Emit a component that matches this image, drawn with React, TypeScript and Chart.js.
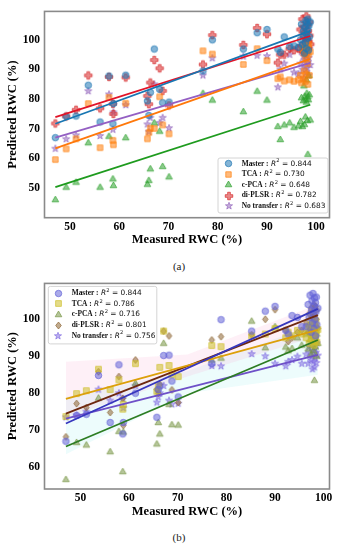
import React, { useEffect, useRef } from "react";
import { Chart, registerables } from "chart.js";
Chart.register(...registerables);

// ---------- data ----------
const measured = [47.0, 49.2, 51.2, 53.7, 56.1, 57.9, 58.7, 58.8, 61.3, 65.7, 66.0, 66.3, 67.1, 68.2, 68.8, 70.1,
  77.0, 78.9, 85.2, 88.0, 90.0, 92.2, 92.7, 93.5, 94.6, 95.5,
  96.4, 96.8, 97.0, 97.2, 97.4, 97.5, 97.6, 97.7, 97.8, 97.9, 98.0, 98.0, 98.1, 98.2, 98.3, 98.3, 98.4, 98.5, 98.6, 98.8];

const xTicks = [50, 60, 70, 80, 90, 100];
const yTicksA = [50, 60, 70, 80, 90, 100];
const yTicksB = [60, 70, 80, 90, 100];

const seriesNames = ["Master", "TCA", "c-PCA", "di-PLSR", "No transfer"];
const r2A = ["0.844", "0.730", "0.648", "0.782", "0.683"];
const r2B = ["0.844", "0.786", "0.716", "0.801", "0.756"];

// (a)
const masterA = [67.0, 74.2, 74.3, 84.7, 72.3, 87.8, 71.7, 78.5, 88.1, 79.4, 74.5, 82.3, 96.9, 83.3, 78.8, 79.0,
  89.5, 100.0, 96.9, 102.4, 103.5, 96.9, 95.8, 101.0, 97.8, 98.0,
  97.5, 100.0, 105.3, 98.5, 103.0, 101.5, 95.5, 104.2, 99.0, 106.5, 102.0, 97.0, 105.8, 100.5, 103.5, 107.0, 96.5, 104.8, 101.0, 106.0];
const tcaA = [59.6, 63.2, 66.6, 78.5, 63.6, 80.6, 66.1, 64.6, 78.6, 66.6, 68.7, 70.2, 70.1, 80.8, 71.3, 68.3,
  96.3, 95.2, 91.7, 97.0, 93.0, 86.9, 87.5, 86.1, 86.5, 86.0,
  86.5, 88.0, 85.5, 97.0, 86.8, 95.5, 89.5, 97.8, 86.0, 94.0, 98.0, 88.5, 96.5, 92.0, 97.5, 85.0, 95.0, 98.5, 88.0, 96.0];
const cpcaA = [46.1, 50.3, 52.0, 65.3, 50.3, 67.5, 53.1, 50.9, 67.0, 51.3, 52.6, 56.5, 72.0, 69.2, 57.3, 53.8,
  82.0, 79.7, 75.8, 82.7, 79.7, 70.8, 66.4, 71.3, 72.0, 70.5,
  71.0, 72.5, 80.5, 70.8, 79.5, 84.5, 71.5, 81.0, 74.0, 80.0, 86.5, 79.0, 82.0, 72.8, 80.8, 61.4, 79.8, 88.0, 81.5, 73.0];
const diplsrA = [71.8, 74.2, 76.4, 88.0, 76.9, 87.5, 78.4, 75.0, 87.3, 81.1, 78.3, 85.6, 93.2, 90.4, 82.8, 77.9,
  91.7, 101.6, 98.3, 104.0, 101.9, 92.3, 95.0, 95.0, 97.0, 96.5,
  97.0, 103.5, 98.0, 107.0, 96.0, 101.0, 104.5, 97.5, 102.5, 99.0, 108.0, 95.5, 100.0, 105.0, 97.0, 103.0, 99.5, 106.0, 101.5, 98.5];
const noTransferA = [63.3, 66.5, 67.8, 82.7, 67.6, 81.6, 69.7, 75.5, 78.0, 71.5, 69.0, 73.7, 85.0, 72.0, 73.7, 70.2,
  88.0, 93.8, 94.4, 94.7, 94.5, 84.0, 90.0, 92.0, 95.0, 89.0,
  88.5, 92.0, 96.0, 90.0, 94.5, 87.0, 93.0, 97.5, 91.0, 95.5, 89.0, 93.5, 98.0, 90.5, 96.5, 92.5, 88.0, 94.0, 97.0, 91.5];

// (b)
const masterB = [67.0, 74.0, 74.3, 84.8, 72.1, 87.7, 69.0, 72.1, 80.0, 73.5, 81.0, 82.0, 90.2, 90.3, 83.3, 79.0,
  88.0, 99.9, 96.8, 102.2, 103.5, 97.0, 96.0, 101.0, 100.5, 98.0,
  98.0, 104.0, 100.5, 106.5, 96.5, 102.5, 105.0, 99.0, 107.0, 101.5, 97.5, 103.5, 105.8, 100.0, 95.5, 104.5, 102.0, 106.0, 98.5, 103.0];
const tcaB = [73.7, 79.9, 80.7, 86.5, 81.0, 83.6, 75.7, 77.0, 88.0, 80.5, 82.0, 87.0, 96.8, 87.5, 85.0, 84.5,
  92.9, 92.6, 95.5, 96.0, 97.5, 95.0, 96.5, 95.5, 97.0, 96.0,
  95.0, 97.5, 93.5, 98.0, 96.0, 94.5, 99.0, 96.5, 95.5, 97.0, 93.0, 98.5, 96.0, 94.0, 97.8, 95.8, 99.5, 96.8, 93.8, 97.2];
const cpcaB = [56.7, 66.7, 66.0, 78.7, 64.2, 69.7, 58.8, 69.5, 82.7, 66.3, 72.1, 69.0, 93.5, 77.0, 71.5, 71.4,
  89.0, 89.5, 99.5, 92.3, 98.0, 92.5, 91.5, 92.1, 95.0, 93.0,
  96.0, 92.0, 98.5, 94.5, 90.5, 97.0, 95.5, 93.0, 99.0, 91.5, 96.5, 94.0, 83.5, 97.5, 92.5, 95.0, 98.0, 90.0, 96.0, 93.5];
const diplsrB = [68.2, 77.2, 76.1, 85.8, 74.8, 84.5, 78.6, 71.3, 89.0, 81.0, 80.0, 82.4, 96.8, 95.5, 80.9, 77.5,
  94.4, 95.3, 95.8, 100.0, 102.6, 97.0, 94.0, 95.0, 96.5, 97.0,
  99.0, 96.5, 101.5, 97.5, 103.0, 98.0, 100.5, 95.5, 102.0, 97.0, 104.0, 99.5, 96.0, 101.0, 98.5, 103.5, 95.0, 100.0, 102.5, 97.5];
const noTransferB = [73.5, 74.0, 75.0, 81.0, 78.0, 80.0, 78.5, 76.0, 82.0, 77.5, 79.0, 80.0, 82.0, 78.0, 77.0, 77.2,
  87.4, 87.3, 90.6, 90.0, 88.0, 87.3, 88.5, 89.0, 89.9, 88.0,
  90.5, 88.0, 92.5, 91.0, 89.0, 93.0, 90.0, 86.5, 91.5, 88.5, 95.0, 90.8, 87.0, 92.0, 89.5, 97.0, 91.0, 88.2, 93.5, 90.2];

// regression lines (start / end)
const fitX = [47.0, 98.8];
const masterFitA = [71.7, 103.0];
const tcaFitA = [63.4, 93.6];
const cpcaFitA = [50.3, 78.1];
const diplsrFitA = [73.9, 101.3];
const noTransferFitA = [67.0, 92.2];
const masterFitB = [71.8, 102.8];
const tcaFitB = [78.5, 97.1];
const cpcaFitB = [65.6, 94.4];
const diplsrFitB = [74.5, 101.1];
const noTransferFitB = [73.1, 90.4];

// faint confidence bands of (b)
const bandX = [47.0, 72.0, 98.8];
const pinkUpper = [88.5, 90.5, 104.0];
const pinkLower = [73.5, 84.5, 95.5];
const cyanUpper = [79.0, 86.0, 99.0];
const cyanLower = [63.5, 80.0, 85.0];

// ---------- styling ----------
type RGB = [number, number, number];
const rgba = (c: RGB, a: number) => `rgba(${c[0]},${c[1]},${c[2]},${a})`;

const colorsA: RGB[] = [[31, 119, 180], [255, 127, 14], [44, 160, 44], [214, 39, 40], [148, 103, 189]];
const lineColorsA: RGB[] = [[24, 118, 178], [255, 120, 10], [30, 155, 30], [225, 20, 40], [148, 95, 195]];
const shapesA = ["circle", "square", "triangle", "plus", "star"];
const sizesA = [6.5, 6.2, 7, 7.5, 7.5];

const colorsB: RGB[] = [[100, 100, 215], [205, 190, 40], [120, 150, 70], [140, 100, 50], [130, 110, 225]];
const lineColorsB: RGB[] = [[55, 55, 190], [220, 160, 10], [45, 125, 35], [110, 40, 15], [110, 80, 200]];
const shapesB = ["circle", "square", "triangle", "diamond", "star"];
const sizesB = [6.5, 6.5, 7, 7, 7.5];

const SERIF = '"Liberation Serif", "Times New Roman", serif';
const SANS = '"DejaVu Sans", sans-serif';

function makeMarker(shape: string, color: RGB, size: number): HTMLCanvasElement {
  const pad = 2;
  const dim = Math.ceil(size + pad * 2);
  const c = document.createElement("canvas");
  c.width = dim;
  c.height = dim;
  const ctx = c.getContext("2d")!;
  const cx = dim / 2, cy = dim / 2, r = size / 2;
  ctx.beginPath();
  if (shape === "circle") {
    ctx.arc(cx, cy, r, 0, Math.PI * 2);
  } else if (shape === "square") {
    ctx.rect(cx - r * 0.88, cy - r * 0.88, r * 1.76, r * 1.76);
  } else if (shape === "triangle") {
    ctx.moveTo(cx, cy - r);
    ctx.lineTo(cx + r * 0.95, cy + r * 0.65);
    ctx.lineTo(cx - r * 0.95, cy + r * 0.65);
    ctx.closePath();
  } else if (shape === "diamond") {
    ctx.moveTo(cx, cy - r);
    ctx.lineTo(cx + r * 0.8, cy);
    ctx.lineTo(cx, cy + r);
    ctx.lineTo(cx - r * 0.8, cy);
    ctx.closePath();
  } else if (shape === "plus") {
    const t = r * 0.36;
    const p = [[-t, -r], [t, -r], [t, -t], [r, -t], [r, t], [t, t], [t, r], [-t, r], [-t, t], [-r, t], [-r, -t], [-t, -t]];
    p.forEach(([dx, dy], i) => (i === 0 ? ctx.moveTo(cx + dx, cy + dy) : ctx.lineTo(cx + dx, cy + dy)));
    ctx.closePath();
  } else if (shape === "star") {
    for (let k = 0; k < 10; k++) {
      const ang = -Math.PI / 2 + (k * Math.PI) / 5;
      const rr = k % 2 === 0 ? r : r * 0.4;
      const px = cx + rr * Math.cos(ang), py = cy + rr * Math.sin(ang);
      k === 0 ? ctx.moveTo(px, py) : ctx.lineTo(px, py);
    }
    ctx.closePath();
  }
  ctx.fillStyle = rgba(color, 0.55);
  ctx.fill();
  ctx.lineWidth = 0.8;
  ctx.strokeStyle = rgba(color, 0.85);
  ctx.stroke();
  return c;
}

const pts = (xs: number[], ys: number[]) => xs.map((x, i) => ({ x, y: ys[i] }));

const framePlugin = {
  id: "frame",
  afterDatasetsDraw(chart: any) {
    const { ctx, chartArea: a } = chart;
    ctx.save();
    ctx.strokeStyle = "#8a8a8a";
    ctx.lineWidth = 1.6;
    ctx.strokeRect(a.left, a.top, a.right - a.left, a.bottom - a.top);
    ctx.restore();
  },
};

type LegendPos = { corner: "br" | "tl"; dx: number; dy: number; w: number; h: number; first: number; gap: number; mx: number; tx: number };

function legendPlugin(markers: HTMLCanvasElement[], r2: string[], pos: LegendPos) {
  return {
    id: "customLegend",
    afterDraw(chart: any) {
      const { ctx, chartArea: a } = chart;
      const left = pos.corner === "br" ? a.right - pos.dx - pos.w : a.left + pos.dx;
      const top = pos.corner === "br" ? a.bottom - pos.dy - pos.h : a.top + pos.dy;
      ctx.save();
      ctx.beginPath();
      (ctx as any).roundRect(left, top, pos.w, pos.h, 2);
      ctx.fillStyle = "rgba(255,255,255,0.85)";
      ctx.fill();
      ctx.strokeStyle = "#d4d4d4";
      ctx.lineWidth = 1;
      ctx.stroke();
      const fs = 7.4;
      seriesNames.forEach((name, i) => {
        const y = top + pos.first + i * pos.gap;
        const m = markers[i];
        ctx.drawImage(m, Math.round(left + pos.mx - m.width / 2), Math.round(y - m.height / 2));
        ctx.fillStyle = "#111";
        ctx.textBaseline = "middle";
        ctx.textAlign = "left";
        let x = left + pos.tx;
        ctx.font = `bold ${fs}px ${SERIF}`;
        const t1 = name + " :";
        ctx.fillText(t1, x, y);
        x += ctx.measureText(t1).width;
        ctx.font = `${fs}px ${SANS}`;
        x += ctx.measureText(" ").width;
        ctx.font = `italic ${fs}px ${SANS}`;
        ctx.fillText("R", x, y);
        x += ctx.measureText("R").width + 0.3;
        ctx.font = `${fs * 0.7}px ${SANS}`;
        ctx.fillText("2", x, y - fs * 0.35);
        x += ctx.measureText("2").width;
        ctx.font = `${fs}px ${SANS}`;
        ctx.fillText(" = " + r2[i], x, y);
      });
      ctx.restore();
    },
  };
}

type Cfg = {
  ys: number[][];
  fits: number[][];
  markers: HTMLCanvasElement[];
  lineColors: RGB[];
  xMin: number; xMax: number; yMin: number; yMax: number;
  yTicks: number[];
  padTop: number;
  xScaleH: number;
  xTitlePad: number;
  legend: any;
  bands: boolean;
};

function buildConfig(c: Cfg): any {
  const datasets: any[] = [];
  if (c.bands) {
    datasets.push(
      { data: pts(bandX, pinkUpper), showLine: true, borderWidth: 0, pointRadius: 0, fill: 1, backgroundColor: "rgba(250,160,205,0.16)", order: 10 },
      { data: pts(bandX, pinkLower), showLine: true, borderWidth: 0, pointRadius: 0, fill: false, order: 10 },
      { data: pts(bandX, cyanUpper), showLine: true, borderWidth: 0, pointRadius: 0, fill: 3, backgroundColor: "rgba(140,235,235,0.16)", order: 10 },
      { data: pts(bandX, cyanLower), showLine: true, borderWidth: 0, pointRadius: 0, fill: false, order: 10 }
    );
  }
  c.ys.forEach((ys, i) => {
    datasets.push({
      data: pts(measured, ys),
      pointStyle: c.markers[i],
      pointRadius: 3,
      pointHoverRadius: 3,
      showLine: false,
      order: 5,
    });
  });
  c.fits.forEach((f, i) => {
    datasets.push({
      data: pts(fitX, f),
      showLine: true,
      borderColor: rgba(c.lineColors[i], 1),
      borderWidth: 1.8,
      pointRadius: 0,
      fill: false,
      order: 1,
    });
  });
  const tickFont = { family: SERIF, size: 11.5, weight: "bold" as const };
  const titleFont = { family: SERIF, size: 12.5, weight: "bold" as const };
  return {
    type: "scatter",
    data: { datasets },
    options: {
      animation: false,
      responsive: false,
      maintainAspectRatio: false,
      devicePixelRatio: 1,
      events: [],
      layout: { padding: { left: 0, right: 15.5, top: c.padTop, bottom: 0 } },
      plugins: { legend: { display: false }, tooltip: { enabled: false } },
      scales: {
        x: {
          type: "linear",
          min: c.xMin,
          max: c.xMax,
          afterBuildTicks: (s: any) => { s.ticks = xTicks.map((v) => ({ value: v })); },
          afterFit: (s: any) => { s.height = c.xScaleH; },
          grid: { display: false, drawTicks: false },
          border: { display: false },
          ticks: { padding: 2, color: "#000", font: tickFont, maxRotation: 0, autoSkip: false },
          title: { display: true, text: "Measured RWC (%)", color: "#000", font: titleFont, padding: { top: 0, bottom: c.xTitlePad } },
        },
        y: {
          type: "linear",
          min: c.yMin,
          max: c.yMax,
          afterBuildTicks: (s: any) => { s.ticks = c.yTicks.map((v) => ({ value: v })); },
          afterFit: (s: any) => { s.width = 44.5; },
          grid: { display: false, drawTicks: false },
          border: { display: false },
          ticks: { padding: 4.5, color: "#000", font: tickFont, autoSkip: false },
          title: { display: true, text: "Predicted RWC (%)", color: "#000", font: titleFont, padding: { top: 5, bottom: 0 } },
        },
      },
    },
    plugins: [framePlugin, legendPlugin(c.markers, c.legend.r2, c.legend.pos)],
  };
}

export default function App() {
  const refA = useRef<HTMLCanvasElement>(null);
  const refB = useRef<HTMLCanvasElement>(null);

  useEffect(() => {
    const markersA = shapesA.map((s, i) => makeMarker(s, colorsA[i], sizesA[i]));
    const markersB = shapesB.map((s, i) => makeMarker(s, colorsB[i], sizesB[i]));

    const chartA = new Chart(refA.current!, buildConfig({
      ys: [masterA, tcaA, cpcaA, diplsrA, noTransferA],
      fits: [masterFitA, tcaFitA, cpcaFitA, diplsrFitA, noTransferFitA],
      markers: markersA,
      lineColors: lineColorsA,
      xMin: 44.8, xMax: 102.7, yMin: 40.0, yMax: 109.6,
      yTicks: yTicksA,
      padTop: 8.3,
      xScaleH: 34.3,
      xTitlePad: 4.5,
      legend: { r2: r2A, pos: { corner: "br", dx: 1.5, dy: 4.7, w: 110, h: 55, first: 5.7, gap: 10.6, mx: 10.7, tx: 23.7 } },
      bands: false,
    }));

    const chartB = new Chart(refB.current!, buildConfig({
      ys: [masterB, tcaB, cpcaB, diplsrB, noTransferB],
      fits: [masterFitB, tcaFitB, cpcaFitB, diplsrFitB, noTransferFitB],
      markers: markersB,
      lineColors: lineColorsB,
      xMin: 42.6, xMax: 101.2, yMin: 54.1, yMax: 109.7,
      yTicks: yTicksB,
      padTop: 9,
      xScaleH: 35,
      xTitlePad: 4.8,
      legend: { r2: r2B, pos: { corner: "tl", dx: 3.8, dy: 3, w: 108.5, h: 57.5, first: 6.7, gap: 10.65, mx: 10, tx: 23.4 } },
      bands: true,
    }));

    return () => {
      chartA.destroy();
      chartB.destroy();
    };
  }, []);

  const caption: React.CSSProperties = {
    position: "absolute",
    left: 0,
    width: 358,
    textAlign: "center",
    fontFamily: SERIF,
    fontSize: 11,
    lineHeight: "12px",
    color: "#222",
  };

  return (
    <div style={{ position: "absolute", left: 0, top: 0, width: 345, height: 550, background: "#fff", overflow: "hidden" }}>
      <canvas ref={refA} width={345} height={252} style={{ position: "absolute", left: 0, top: 0, width: 345, height: 252 }} />
      <div style={{ ...caption, top: 260 }}>(a)</div>
      <canvas ref={refB} width={345} height={252} style={{ position: "absolute", left: 0, top: 272, width: 345, height: 252 }} />
      <div style={{ ...caption, top: 531 }}>(b)</div>
    </div>
  );
}
